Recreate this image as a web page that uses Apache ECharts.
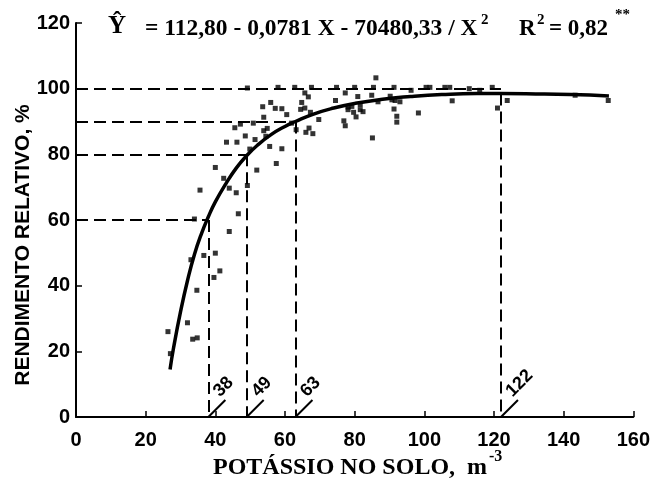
<!DOCTYPE html>
<html>
<head>
<meta charset="utf-8">
<script src="https://cdn.jsdelivr.net/npm/echarts@6/dist/echarts.min.js"></script>
<style>
    html, body { margin: 0; padding: 0; background: #fff; }
    #main { width: 653px; height: 483px; }
</style>
</head>
<body>
<div id="main"></div>
<script>
// pontos observados (K no solo, rendimento relativo %)
const sampleK = [
    34, 44, 46.6, 33, 36.7, 40, 41.3, 39.6, 34.7, 32, 26.4, 33.5, 34.8, 27.1,
    49.2, 58, 62.8, 67.6, 65.7, 66.7, 53.6, 55.9, 57.2, 59.1, 64.8, 64.5, 65.7, 67.3,
    60.5, 69.7, 53.9, 50.9, 47.2, 45.6, 54.9, 53.9, 61.9, 63.2, 66.9, 66, 68,
    43.2, 46.2, 48.6, 51.4, 54.5, 55.6, 59.1, 49.9, 57.5, 40, 51.9, 42.4, 35.6, 44, 46, 49.2,
    86.1, 74.8, 80, 85.4, 91.3, 96.2, 100.5, 101.6, 105.9, 107.3, 112.9, 115.9, 119.5,
    108, 123.8, 121, 77.3, 80.9, 84.9, 74.5, 90.2, 86.7, 90.7, 91.6, 93,
    78.1, 79.2, 78.1, 81.6, 81.6, 79.7, 82.4, 80.4, 76.9, 77.3, 91.3, 92.1, 92.1, 98.3, 85.1,
    143.3, 152.8
];
const sampleRY = [
    60.3, 56.5, 61.9, 47.9, 49.2, 49.9, 44.5, 42.5, 38.6, 28.7, 26, 23.7, 24.1, 19.3,
    100.2, 100.4, 100.4, 100.4, 98.7, 97.5, 94.5, 95.8, 94, 93.9, 95.8, 93.7, 94.1, 92.8,
    92.1, 90.6, 91.3, 89.5, 89.2, 88.1, 87.9, 87.2, 89.5, 87.5, 88, 86.7, 86.3,
    83.7, 83.7, 85.6, 84.5, 85.5, 82.4, 81.7, 81.6, 77.2, 76, 75.2, 72.7, 69.1, 69.7, 68.3, 70.5,
    103.3, 100.4, 100.4, 100.4, 100.4, 99.5, 100.4, 100.4, 100.4, 100.4, 100, 99.5, 100.4,
    96.3, 96.4, 94.1, 98.7, 97.6, 98, 96.4, 97.7, 96, 96.6, 96.4, 96,
    94.4, 94.6, 93.6, 95.1, 93.6, 92.8, 93, 91.4, 90.2, 88.7, 93.8, 91.6, 89.8, 92.6, 85,
    98, 96.4
];

// curva ajustada
const fitK  = [27, 28, 30, 32, 34, 36, 38, 40, 43, 46, 49, 52, 56, 60, 63, 68, 74, 80, 88, 96, 105, 115, 122, 132, 142, 153];
const fitRY = [14.5, 21, 32, 41.5, 49.5, 55.8, 61, 65.5, 71, 75.8, 79.6, 82.7, 86, 88.5, 90, 92.2, 94.1, 95.5, 96.8, 97.6, 98.2, 98.5, 98.5, 98.4, 98.2, 97.8];

// niveis criticos
const critK     = [38, 49, 63, 122];
const critLevel = [60, 80, 90, 100];
const critTop   = [60, 80, 90, 98.5];
const critText  = ['38', '49', '63', '122'];

const sans = 'Liberation Sans';
const serif = 'Liberation Serif';

let myChart = echarts.init(document.getElementById('main'));

let guideLines = [];
critK.forEach((k, i) => {
    guideLines.push([{coord: [0, critLevel[i]]}, {coord: [k, critLevel[i]]}]);
    guideLines.push([{coord: [k, critTop[i]]}, {coord: [k, 0]}]);
});

myChart.setOption({
    animation: false,
    grid: {left: 76, right: 17, top: 23, bottom: 66},
    xAxis: {
        type: 'value', min: 0, max: 160, interval: 20,
        splitLine: {show: false},
        axisLine: {onZero: false, lineStyle: {color: '#000', width: 2}},
        axisTick: {inside: true, length: 6, lineStyle: {color: '#000', width: 1.5}},
        axisLabel: {color: '#000', fontFamily: sans, fontWeight: 'bold', fontSize: 20, margin: 13}
    },
    yAxis: {
        type: 'value', min: 0, max: 120, interval: 20,
        splitLine: {show: false},
        axisLine: {show: true, onZero: false, lineStyle: {color: '#000', width: 2}},
        axisTick: {show: true, inside: true, length: 6, lineStyle: {color: '#000', width: 1.5}},
        axisLabel: {color: '#000', fontFamily: sans, fontWeight: 'bold', fontSize: 20, margin: 6}
    },
    series: [
        {
            type: 'line',
            data: [],
            silent: true,
            markLine: {
                silent: true,
                symbol: 'none',
                label: {show: false},
                lineStyle: {color: '#000', width: 2, type: [12, 6]},
                data: guideLines
            }
        },
        {
            type: 'line',
            data: fitK.map((k, i) => [k, fitRY[i]]),
            smooth: 0.5,
            showSymbol: false,
            lineStyle: {color: '#000', width: 3.5}
        },
        {
            type: 'scatter',
            data: sampleK.map((k, i) => [k, sampleRY[i]]),
            symbol: 'rect',
            symbolSize: 5,
            itemStyle: {color: '#000'}
        }
    ]
});

// textos e marcas dos niveis criticos
let g = [];
critK.forEach((k, i) => {
    let p = myChart.convertToPixel({gridIndex: 0}, [k, 0]);
    g.push({
        type: 'line',
        shape: {x1: p[0], y1: p[1], x2: p[0] + 17, y2: p[1] - 17},
        style: {stroke: '#000', lineWidth: 2}
    });
    g.push({
        type: 'text',
        x: p[0] + 8, y: p[1] - 23,
        rotation: Math.PI / 4,
        style: {text: critText[i], fill: '#000', font: 'bold 18px ' + sans, align: 'left', verticalAlign: 'middle'}
    });
});

// equacao
g.push({type: 'text', x: 108, y: 27, style: {text: 'Ŷ', fill: '#000', font: 'bold 25px ' + serif, verticalAlign: 'middle'}});
g.push({type: 'text', x: 145, y: 29, style: {text: '= 112,80 - 0,0781 X - 70480,33 / X', fill: '#000', font: 'bold 23.5px ' + serif, verticalAlign: 'middle'}});
g.push({type: 'text', x: 481, y: 20, style: {text: '2', fill: '#000', font: 'bold 15px ' + serif, verticalAlign: 'middle'}});
g.push({type: 'text', x: 519, y: 29, style: {text: 'R', fill: '#000', font: 'bold 23px ' + serif, verticalAlign: 'middle'}});
g.push({type: 'text', x: 537, y: 20, style: {text: '2', fill: '#000', font: 'bold 15px ' + serif, verticalAlign: 'middle'}});
g.push({type: 'text', x: 549, y: 29, style: {text: '= 0,82', fill: '#000', font: 'bold 23px ' + serif, verticalAlign: 'middle'}});
g.push({type: 'text', x: 615, y: 15, style: {text: '**', fill: '#000', font: 'bold 15px ' + serif, verticalAlign: 'middle'}});

// nomes dos eixos
g.push({type: 'text', x: 213, y: 468, style: {text: 'POTÁSSIO NO SOLO,  m', fill: '#000', font: 'bold 24px ' + serif, verticalAlign: 'middle'}});
g.push({type: 'text', x: 489, y: 457, style: {text: '-3', fill: '#000', font: 'bold 16px ' + serif, verticalAlign: 'middle'}});
g.push({type: 'text', x: 23, y: 245, rotation: Math.PI / 2, style: {text: 'RENDIMENTO RELATIVO, %', fill: '#000', font: 'bold 21px ' + sans, align: 'center', verticalAlign: 'middle'}});

myChart.setOption({graphic: g});
</script>
</body>
</html>
